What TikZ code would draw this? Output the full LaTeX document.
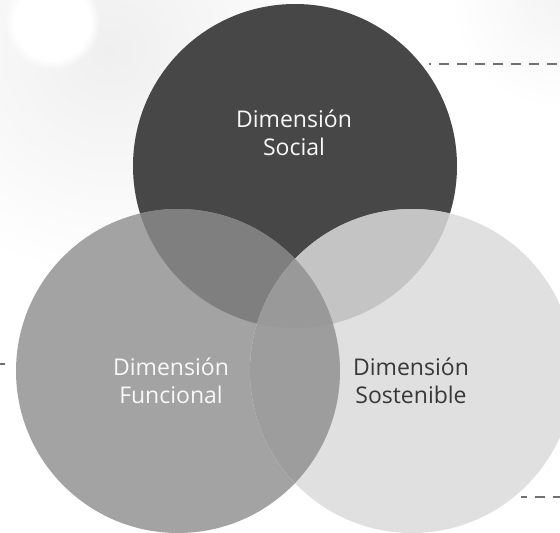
\documentclass[tikz,border=0pt]{standalone}
\usepackage{fontspec}
\setmainfont{Open Sans}
\usetikzlibrary{fadings}
\definecolor{cTop}{HTML}{474747}
\definecolor{cLeft}{HTML}{A3A3A3}
\definecolor{cRight}{HTML}{E0E0E0}
\definecolor{cTL}{HTML}{7F7F7F}
\definecolor{cTR}{HTML}{C4C4C4}
\definecolor{cLR}{HTML}{9D9D9D}
\definecolor{cAll}{HTML}{999999}
\definecolor{cDash}{HTML}{707070}
\definecolor{cLight}{HTML}{F8F8F8}
\definecolor{cDark}{HTML}{383838}
\definecolor{cBg}{HTML}{EFEFEF}
\tikzset{
  lbl/.style={anchor=base, inner sep=0pt, font=\fontsize{23}{27}\selectfont},
  dashline/.style={draw=cDash, line width=2pt, dash pattern=on 10pt off 8pt}
}
\begin{document}
\begin{tikzpicture}[x=1pt,y=-1pt]
\useasboundingbox (0,0) rectangle (560,533);
\fill[white] (0,0) rectangle (560,533);
% soft background
\shade[inner color=cBg, outer color=white] (110,50) circle (230);
\shade[inner color=cBg!70, outer color=white] (560,0) circle (110);
\fill[white, path fading=circle with fuzzy edge 20 percent] (52,22) circle (48);
% circles
\def\Tc{(295,166) circle (162)}
\def\Lc{(178,371) circle (162)}
\def\Rc{(412,371) circle (162)}
\fill[cTop] \Tc;
\fill[cLeft] \Lc;
\fill[cRight] \Rc;
\begin{scope}\clip \Tc; \fill[cTL] \Lc; \fill[cTR] \Rc; \end{scope}
\begin{scope}\clip \Lc; \fill[cLR] \Rc; \end{scope}
\begin{scope}\clip \Tc; \clip \Lc; \fill[cAll] \Rc; \end{scope}
% labels
\node[lbl, text=cLight] (socA) at (294,127) {Dimensión};
\node[lbl, text=cLight] (socB) at (294,155) {Social};
\node[lbl, text=cLight] (funA) at (171,375) {Dimensión};
\node[lbl, text=cLight] (funB) at (171,403) {Funcional};
\node[lbl, text=cDark] (sosA) at (411,375) {Dimensión};
\node[lbl, text=cDark] (sosB) at (411,403) {Sostenible};
% dashed leaders
\coordinate (t1) at (429,64); \coordinate (t2) at (560,64);
\coordinate (l1) at (0,364); \coordinate (l2) at (5,364);
\coordinate (b1) at (521,497); \coordinate (b2) at (560,497);
\draw[dashline, dash phase=8pt] (t1) -- (t2);
\draw[draw=cDash, line width=2pt] (l1) -- (l2);
\draw[dashline, dash phase=4pt] (b1) -- (b2);
\end{tikzpicture}
\end{document}
